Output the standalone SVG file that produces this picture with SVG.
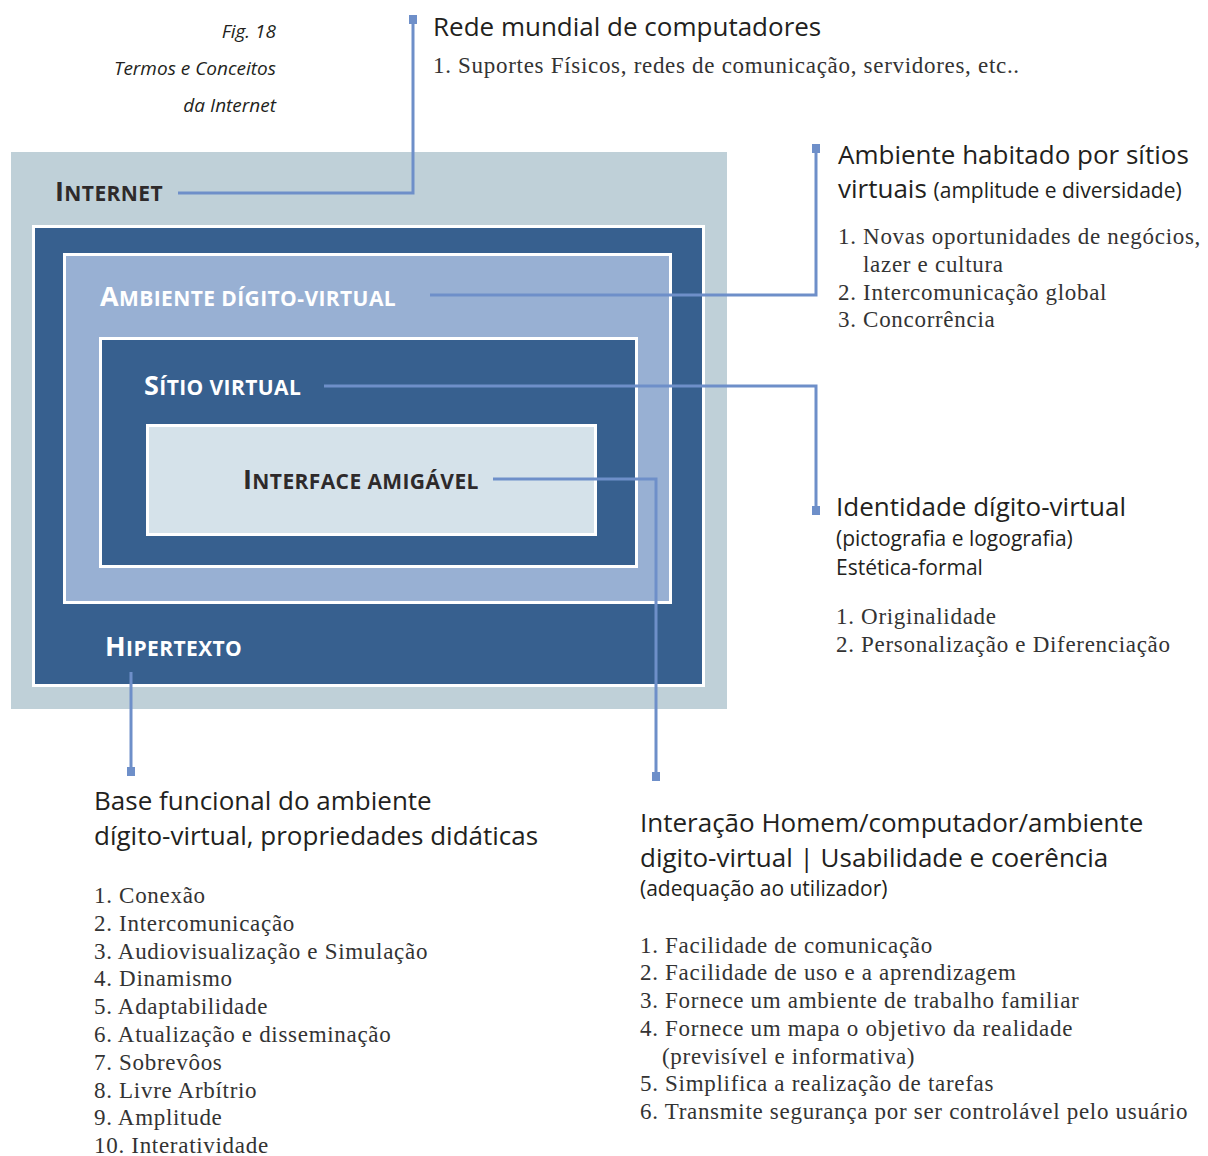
<svg xmlns="http://www.w3.org/2000/svg" width="1208" height="1156" viewBox="0 0 1208 1156">
<style>
.cap{font-family:"Open Sans","Liberation Sans",sans-serif;font-style:italic;font-size:19px;fill:#231f20;text-anchor:end}
.h{font-family:"Open Sans","Liberation Sans",sans-serif;font-size:26px;fill:#231f20}
.sub{font-family:"Open Sans","Liberation Sans",sans-serif;font-size:21px;fill:#231f20}
.li{font-family:"Liberation Serif","DejaVu Serif",serif;font-size:23px;letter-spacing:0.7px;fill:#333}
.lbl{font-family:"Open Sans","Liberation Sans",sans-serif;font-weight:700;letter-spacing:0.4px}
.lbl .b{font-size:27px}
.lbl .s{font-size:21px}
.w{fill:#fff}
.d{fill:#2e2a2b}
.conn{fill:none;stroke:#6e8fc9;stroke-width:3}
.end{fill:#6e8fc9}
</style>
<rect width="1208" height="1156" fill="#fff"/>
<g id="caption">
<text class="cap" x="276" y="38">Fig. 18</text>
<text class="cap" x="276" y="75">Termos e Conceitos</text>
<text class="cap" x="276" y="112">da Internet</text>
</g>
<g id="internet">
<rect x="11" y="152" width="716" height="557" fill="#bfd0d8"/>
<text class="lbl d" x="55" y="201"><tspan class="b">I</tspan><tspan class="s">NTERNET</tspan></text>
</g>
<g id="hipertexto">
<rect x="33.5" y="226.5" width="670" height="459" fill="#37608f" stroke="#fff" stroke-width="3"/>
<text class="lbl w" x="105" y="656"><tspan class="b">H</tspan><tspan class="s">IPERTEXTO</tspan></text>
</g>
<g id="ambiente">
<rect x="64.5" y="254.5" width="606" height="348" fill="#98b0d3" stroke="#fff" stroke-width="3"/>
<text class="lbl w" x="100" y="306"><tspan class="b">A</tspan><tspan class="s">MBIENTE DÍGITO-VIRTUAL</tspan></text>
</g>
<g id="sitio">
<rect x="100.5" y="338.5" width="536" height="228" fill="#37608f" stroke="#fff" stroke-width="3"/>
<text class="lbl w" x="144" y="395"><tspan class="b">S</tspan><tspan class="s">ÍTIO VIRTUAL</tspan></text>
</g>
<g id="interface">
<rect x="147.5" y="425.5" width="448" height="109" fill="#d5e2ea" stroke="#fff" stroke-width="3"/>
<text class="lbl d" x="243" y="489"><tspan class="b">I</tspan><tspan class="s">NTERFACE AMIGÁVEL</tspan></text>
</g>
<g id="connectors">
<polyline class="conn" points="178,193 413,193 413,20"/>
<rect class="end" x="409" y="15" width="8" height="9"/>
<polyline class="conn" points="430,295 816,295 816,148"/>
<rect class="end" x="812" y="144" width="8" height="9"/>
<polyline class="conn" points="324,386 816,386 816,512"/>
<rect class="end" x="812" y="506" width="8" height="9"/>
<polyline class="conn" points="493,479 656,479 656,778"/>
<rect class="end" x="652" y="772" width="8" height="9"/>
<polyline class="conn" points="131,672 131,773"/>
<rect class="end" x="127" y="767" width="8" height="9"/>
</g>
<g id="rede">
<text class="h" x="433" y="36">Rede mundial de computadores</text>
<text class="li" x="433" y="73">1. Suportes Físicos, redes de comunicação, servidores, etc..</text>
</g>
<g id="ambiente-desc">
<text class="h" x="838" y="164">Ambiente habitado por sítios</text>
<text class="h" x="838" y="198">virtuais <tspan class="sub">(amplitude e diversidade)</tspan></text>
<text class="li" x="838" y="244">1. Novas oportunidades de negócios,</text>
<text class="li" x="863" y="272">lazer e cultura</text>
<text class="li" x="838" y="300">2. Intercomunicação global</text>
<text class="li" x="838" y="327">3. Concorrência</text>
</g>
<g id="identidade-desc">
<text class="h" x="836" y="516">Identidade dígito-virtual</text>
<text class="sub" x="836" y="546">(pictografia e logografia)</text>
<text class="sub" x="836" y="575">Estética-formal</text>
<text class="li" x="836" y="624">1. Originalidade</text>
<text class="li" x="836" y="652">2. Personalização e Diferenciação</text>
</g>
<g id="base-desc">
<text class="h" x="94" y="810">Base funcional do ambiente</text>
<text class="h" x="94" y="845">dígito-virtual, propriedades didáticas</text>
<text class="li" x="94" y="903">1. Conexão</text>
<text class="li" x="94" y="931">2. Intercomunicação</text>
<text class="li" x="94" y="959">3. Audiovisualização e Simulação</text>
<text class="li" x="94" y="986">4. Dinamismo</text>
<text class="li" x="94" y="1014">5. Adaptabilidade</text>
<text class="li" x="94" y="1042">6. Atualização e disseminação</text>
<text class="li" x="94" y="1070">7. Sobrevôos</text>
<text class="li" x="94" y="1098">8. Livre Arbítrio</text>
<text class="li" x="94" y="1125">9. Amplitude</text>
<text class="li" x="94" y="1153">10. Interatividade</text>
</g>
<g id="interacao-desc">
<text class="h" x="640" y="832">Interação Homem/computador/ambiente</text>
<text class="h" x="640" y="867">digito-virtual | Usabilidade e coerência</text>
<text class="sub" x="640" y="896">(adequação ao utilizador)</text>
<text class="li" x="640" y="953">1. Facilidade de comunicação</text>
<text class="li" x="640" y="980">2. Facilidade de uso e a aprendizagem</text>
<text class="li" x="640" y="1008">3. Fornece um ambiente de trabalho familiar</text>
<text class="li" x="640" y="1036">4. Fornece um mapa o objetivo da realidade</text>
<text class="li" x="662" y="1064">(previsível e informativa)</text>
<text class="li" x="640" y="1091">5. Simplifica a realização de tarefas</text>
<text class="li" x="640" y="1119">6. Transmite segurança por ser controlável pelo usuário</text>
</g>
</svg>
